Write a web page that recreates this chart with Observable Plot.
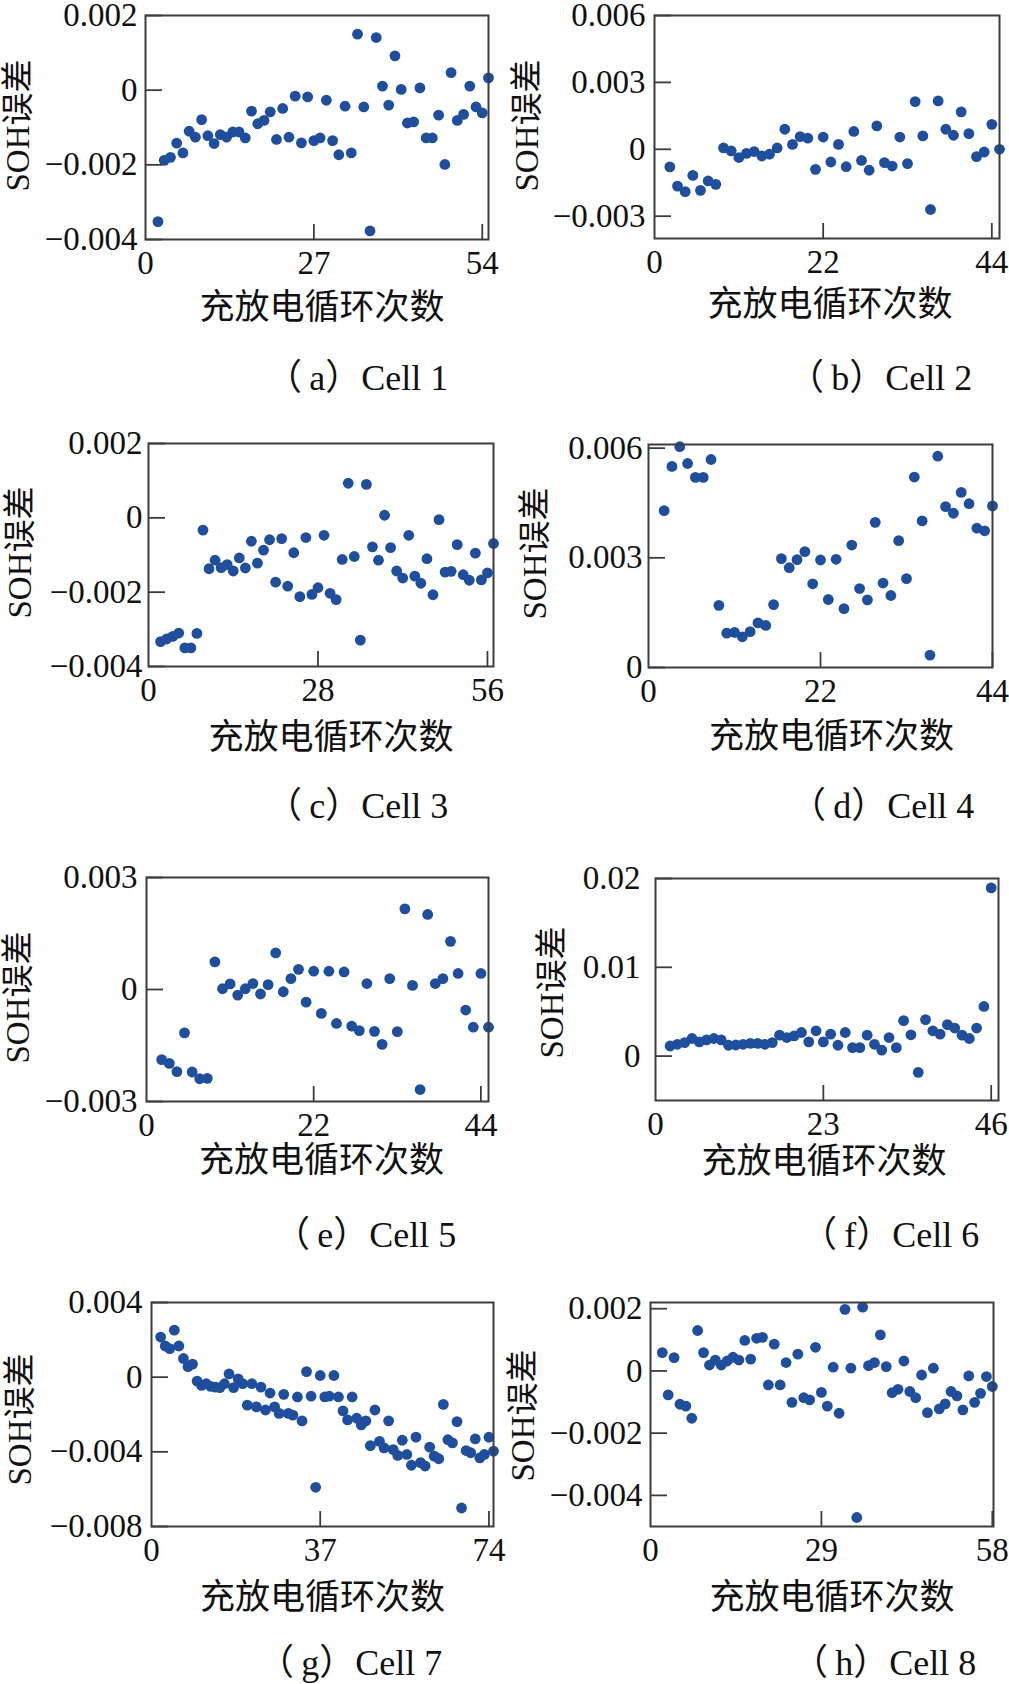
<!DOCTYPE html>
<html>
<head>
<meta charset="utf-8">
<script src="https://cdn.jsdelivr.net/npm/d3@7"></script>
<script src="https://cdn.jsdelivr.net/npm/@observablehq/plot@0.6"></script>
<style>
html, body { margin: 0; padding: 0; background: #fff; }
#fig { position: relative; width: 1009px; height: 1684px; overflow: hidden; background: #fff; }
.panel { position: absolute; }
.cap { position: absolute; font-family: "Liberation Serif", "Noto Sans CJK SC", serif; font-size: 36px; line-height: 36px; color: #111; white-space: nowrap; }
</style>
</head>
<body>
<div id="fig"></div>
<script>
// ---------------- data ----------------
const xLabel = "充放电循环次数";
const yLabel = "SOH误差";

const cell1Cycle = [2,3,4,5,6,7,8,9,10,11,12,13,14,15,16,17,18,19,20,21,22,23,24,25,26,27,28,29,30,31,32,33,34,35,36,37,38,39,40,41,42,43,44,45,46,47,48,49,50,51,52,53,54,55];
const cell1Err = [-0.00352,-0.00188,-0.0018,-0.00142,-0.00168,-0.0011,-0.00126,-0.00079,-0.00122,-0.00143,-0.00119,-0.00126,-0.00112,-0.00112,-0.00128,-0.00056,-0.0009,-0.00081,-0.00058,-0.00132,-0.00049,-0.00126,-0.00016,-0.00141,-0.00018,-0.00135,-0.00128,-0.00027,-0.00135,-0.00173,-0.00043,-0.00168,0.0015,-0.00045,-0.00377,0.00141,0.00011,-0.0004,0.00092,0.00002,-0.00088,-0.00085,0.00006,-0.00128,-0.00128,-0.00067,-0.00199,0.00047,-0.00081,-0.00065,0.00011,-0.00045,-0.00061,0.00033];

const cell2Cycle = [2,3,4,5,6,7,8,9,10,11,12,13,14,15,16,17,18,19,20,21,22,23,24,25,26,27,28,29,30,31,32,33,34,35,36,37,38,39,40,41,42,43,44,45];
const cell2Err = [-0.00079,-0.00165,-0.0019,-0.00117,-0.00184,-0.00142,-0.00157,0.00006,-0.00007,-0.00037,-0.00018,-0.0001,-0.0003,-0.00022,0.00006,0.0009,0.00022,0.00057,0.0005,-0.0009,0.00055,-0.00057,0.00022,-0.00078,0.0008,-0.0005,-0.00094,0.00105,-0.0006,-0.00075,0.00055,-0.00064,0.00214,0.0006,-0.0027,0.00217,0.0009,0.00063,0.00168,0.0007,-0.00033,-0.00012,0.00112,0.0];

const cell3Cycle = [2,3,4,5,6,7,8,9,10,11,12,13,14,15,16,17,18,19,20,21,22,23,24,25,26,27,28,29,30,31,32,33,34,35,36,37,38,39,40,41,42,43,44,45,46,47,48,49,50,51,52,53,54,55,56,57];
const cell3Err = [-0.00333,-0.00326,-0.00319,-0.0031,-0.0035,-0.0035,-0.00311,-0.00033,-0.00137,-0.00114,-0.00134,-0.00126,-0.00143,-0.00108,-0.00135,-0.00063,-0.00122,-0.00087,-0.00059,-0.00173,-0.00056,-0.00184,-0.00094,-0.00212,-0.00053,-0.00206,-0.00188,-0.00047,-0.00203,-0.0022,-0.00112,0.00093,-0.00104,-0.00329,0.0009,-0.00078,-0.00114,0.00007,-0.0008,-0.00143,-0.00162,-0.00047,-0.00157,-0.00176,-0.0011,-0.00207,-0.00005,-0.00146,-0.00144,-0.00072,-0.00153,-0.00168,-0.00095,-0.00167,-0.00148,-0.00069];

const cell4Cycle = [2,3,4,5,6,7,8,9,10,11,12,13,14,15,16,17,18,19,20,21,22,23,24,25,26,27,28,29,30,31,32,33,34,35,36,37,38,39,40,41,42,43,44];
const cell4Err = [0.00429,0.0055,0.00604,0.00558,0.0052,0.0052,0.00569,0.0017,0.00094,0.00096,0.00084,0.00098,0.00122,0.00115,0.00172,0.00298,0.00273,0.00295,0.00317,0.00229,0.00294,0.00186,0.00296,0.00161,0.00335,0.00216,0.00185,0.00397,0.00231,0.00197,0.00347,0.00243,0.00521,0.00401,0.00034,0.00578,0.0044,0.00422,0.00479,0.00448,0.00381,0.00374,0.00442];

const cell5Cycle = [2,3,4,5,6,7,8,9,10,11,12,13,14,15,16,17,18,19,20,21,22,23,24,25,26,27,28,29,30,31,32,33,34,35,36,37,38,39,40,41,42,43,44,45];
const cell5Err = [-0.00188,-0.00198,-0.0022,-0.00116,-0.00221,-0.00239,-0.00238,0.00074,0.00002,0.00015,-0.00015,0.00002,0.00016,-0.00012,0.00013,0.00098,-0.00006,0.00029,0.00054,-0.00034,0.00049,-0.00064,0.00049,-0.00091,0.00047,-0.00098,-0.0011,0.00016,-0.00112,-0.00147,0.00029,-0.00113,0.00216,0.00011,-0.00268,0.00201,0.00016,0.00029,0.00129,0.00043,-0.00055,-0.00101,0.00043,-0.00101];

const cell6Cycle = [2,3,4,5,6,7,8,9,10,11,12,13,14,15,16,17,18,19,20,21,22,23,24,25,26,27,28,29,30,31,32,33,34,35,36,37,38,39,40,41,42,43,44,45,46];
const cell6Err = [0.00114,0.00133,0.00152,0.00198,0.0016,0.00183,0.00198,0.00183,0.00122,0.00125,0.00133,0.00144,0.00144,0.00133,0.00152,0.00236,0.00209,0.00228,0.00266,0.0016,0.00285,0.0016,0.00247,0.00122,0.00266,0.00095,0.00095,0.00236,0.00133,0.00068,0.00209,0.00095,0.00399,0.0024,-0.00183,0.00411,0.00285,0.00247,0.00354,0.00316,0.00236,0.00198,0.00316,0.00559,0.01894];

const cell7Cycle = [2,3,4,5,6,7,8,9,10,11,12,13,14,15,16,17,18,19,20,21,22,23,24,25,26,27,28,29,30,31,32,33,34,35,36,37,38,39,40,41,42,43,44,45,46,47,48,49,50,51,52,53,54,55,56,57,58,59,60,61,62,63,64,65,66,67,68,69,70,71,72,73,74,75];
const cell7Err = [0.00215,0.00167,0.00153,0.00252,0.00167,0.001,0.00056,0.0007,-0.00021,-0.00044,-0.00035,-0.00049,-0.00053,-0.00056,-0.00035,0.00018,-0.00056,-0.00009,-0.00035,-0.0015,-0.00035,-0.00159,-0.00053,-0.00176,-0.00085,-0.00159,-0.00194,-0.00092,-0.00194,-0.00203,-0.00106,-0.00234,0.0003,-0.00102,-0.0059,0.00009,-0.00106,-0.00102,0.00009,-0.00106,-0.00181,-0.00229,-0.00106,-0.0022,-0.00256,-0.00234,-0.00367,-0.00176,-0.00344,-0.00379,-0.00234,-0.00388,-0.00419,-0.00338,-0.00414,-0.00472,-0.00321,-0.00458,-0.00476,-0.00375,-0.00423,-0.00437,-0.00146,-0.00335,-0.00352,-0.00238,-0.00701,-0.00393,-0.00405,-0.00331,-0.00432,-0.00414,-0.00322,-0.00396];

const cell8Cycle = [2,3,4,5,6,7,8,9,10,11,12,13,14,15,16,17,18,19,20,21,22,23,24,25,26,27,28,29,30,31,32,33,34,35,36,37,38,39,40,41,42,43,44,45,46,47,48,49,50,51,52,53,54,55,56,57,58];
const cell8Err = [0.00059,-0.00077,0.00043,-0.00107,-0.00113,-0.00152,0.0013,0.00059,0.00019,0.00035,0.00019,0.00032,0.00044,0.00035,0.00098,0.00038,0.00105,0.00108,-0.00045,0.00086,-0.00045,0.00027,-0.00101,0.00054,-0.00086,-0.00093,0.00076,-0.00069,-0.00113,0.00012,-0.00136,0.00198,0.00009,-0.00471,0.00205,0.00017,0.00027,0.00116,0.00014,-0.0007,-0.00059,0.00032,-0.00066,-0.00086,-0.00013,-0.00134,0.00009,-0.00122,-0.00106,-0.00066,-0.0008,-0.00125,-0.00016,-0.00101,-0.00072,-0.00018,-0.0005];

// axis domains and tick values
const xDomains = [[0,55],[0,45],[0,57],[0,44],[0,45],[0,47],[0,75],[0,58.2]];
const yDomains = [[-0.004,0.002],[-0.004,0.006],[-0.004,0.002],[0,0.0061],[-0.003,0.003],[-0.005,0.02],[-0.008,0.004],[-0.005,0.0022]];
const xTickValues = [[0,27,54],[0,22,44],[0,28,56],[0,22,44],[0,22,44],[0,23,46],[0,37,74],[0,29,58]];
const yTickValues = [[-0.004,-0.002,0,0.002],[-0.003,0,0.003,0.006],[-0.004,-0.002,0,0.002],[0,0.003,0.006],[-0.003,0,0.003],[0,0.01,0.02],[-0.008,-0.004,0,0.004],[-0.004,-0.002,0,0.002]];
const captions = ["（\u2009a）Cell 1","（\u2009b）Cell 2","（\u2009c）Cell 3","（\u2009d）Cell 4","（\u2009e）Cell 5","（\u2009f）Cell 6","（\u2009g）Cell 7","（\u2009h）Cell 8"];

const cycles = [cell1Cycle,cell2Cycle,cell3Cycle,cell4Cycle,cell5Cycle,cell6Cycle,cell7Cycle,cell8Cycle];
const errs = [cell1Err,cell2Err,cell3Err,cell4Err,cell5Err,cell6Err,cell7Err,cell8Err];

// ---------------- layout (page pixels) ----------------
const frames = [
  {L:145,T:15,R:488,B:239, yPad:8,  yLabX:18,  yLabY:125,  xLabDx:5,  xLabDy:68},
  {L:654,T:15,R:999,B:238, yPad:9,  yLabX:527, yLabY:125,  xLabDx:3,  xLabDy:66},
  {L:148,T:443,R:493,B:666, yPad:6, yLabX:20,  yLabY:552,  xLabDx:10, xLabDy:71},
  {L:648,T:444,R:992,B:667, yPad:6, yLabX:535, yLabY:553,  xLabDx:11, xLabDy:69},
  {L:146,T:877,R:488,B:1101, yPad:9, yLabX:18, yLabY:997,  xLabDx:4,  xLabDy:59},
  {L:655,T:878,R:998,B:1100, yPad:15, yLabX:552, yLabY:992, xLabDx:-3, xLabDy:61},
  {L:151,T:1302,R:493,B:1526, yPad:9, yLabX:20, yLabY:1419, xLabDx:0,  xLabDy:71},
  {L:650,T:1302,R:993,B:1526, yPad:8, yLabX:523, yLabY:1415, xLabDx:10, xLabDy:71}
];
const capPos = [
  {x:288, base:390},{x:810, base:390},
  {x:288, base:818},{x:812, base:818},
  {x:296, base:1247},{x:823, base:1247},
  {x:280, base:1675},{x:814, base:1675}
];

const DOT = "#1f4e9c";
const AXIS = "#3c3c3c";
const fmt = d => d === 0 ? "0" : d3.format("")(d);

const fig = document.getElementById("fig");

frames.forEach((f, i) => {
  const svgLeft = i % 2 === 0 ? 0 : 500;
  const svgWidth = i % 2 === 0 ? 500 : 509;
  const svgTop = f.T - 15;
  const svgHeight = f.B - svgTop + 95;
  const fw = f.R - f.L, fh = f.B - f.T;
  const data = cycles[i].map((c, k) => ({cycle: c, err: errs[i][k]}));
  const xt = xTickValues[i], yt = yTickValues[i];
  const chart = Plot.plot({
    width: svgWidth,
    height: svgHeight,
    marginLeft: f.L - svgLeft,
    marginRight: svgLeft + svgWidth - f.R,
    marginTop: f.T - svgTop,
    marginBottom: svgTop + svgHeight - f.B,
    x: {domain: xDomains[i], label: null},
    y: {domain: yDomains[i], label: null},
    style: {fontFamily: "'Liberation Serif', 'Times New Roman', serif", fontSize: "33px", color: "#111", background: "transparent", overflow: "visible"},
    marks: [
      Plot.dot(data, {x: "cycle", y: "err", r: 5.4, fill: DOT, stroke: "none"}),
      Plot.frame({stroke: AXIS, strokeWidth: 2}),
      Plot.tickX(xt.filter(v => v !== xDomains[i][0]), {x: d => d, stroke: AXIS, strokeWidth: 1.8, insetTop: fh - 15}),
      Plot.tickY(yt, {y: d => d, stroke: AXIS, strokeWidth: 1.8, insetRight: fw - 17}),
      Plot.axisX({ticks: xt, tickSize: 0, tickPadding: 11, tickFormat: fmt, label: null, fill: "#111", fontSize: 33}),
      Plot.axisY({ticks: yt, tickSize: 0, tickPadding: f.yPad, tickFormat: fmt, label: null, fill: "#111", fontSize: 33}),
      Plot.text([xLabel], {text: d => d, frameAnchor: "bottom", dx: f.xLabDx, dy: f.xLabDy, lineAnchor: "middle", fontFamily: "'Noto Sans CJK SC', sans-serif", fontSize: 35, fill: "#111"}),
      Plot.text([yLabel], {text: d => d, frameAnchor: "left", rotate: -90, dx: f.yLabX - f.L, dy: f.yLabY - (f.T + f.B) / 2, lineAnchor: "middle", textAnchor: "middle", fontFamily: "'Liberation Serif', 'Noto Sans CJK SC', serif", fontSize: 33, fill: "#111"})
    ]
  });
  chart.classList.add("panel");
  chart.style.left = svgLeft + "px";
  chart.style.top = svgTop + "px";
  fig.appendChild(chart);

  const cap = document.createElement("div");
  cap.className = "cap";
  cap.textContent = captions[i];
  cap.style.left = (capPos[i].x - 22) + "px";
  cap.style.top = (capPos[i].base - 30) + "px";
  fig.appendChild(cap);
});
</script>
</body>
</html>
